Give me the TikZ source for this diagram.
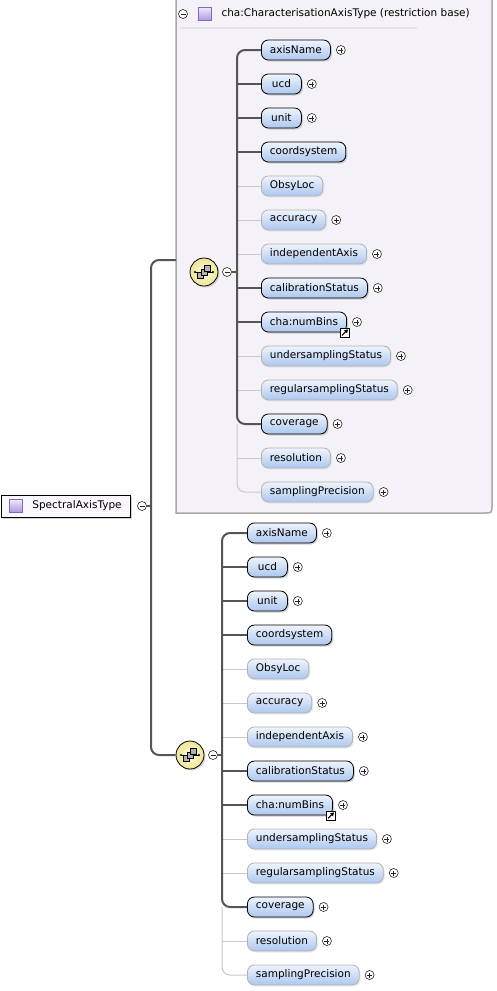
\documentclass[tikz,border=0pt]{standalone}
\usepackage{fontspec}
\setmainfont{DejaVu Sans}
\usetikzlibrary{shadows,arrows.meta}

\definecolor{elTop}{RGB}{238,244,253}
\definecolor{elBot}{RGB}{172,199,238}
\definecolor{panelbg}{RGB}{244,242,248}
\definecolor{panelrule}{RGB}{168,168,168}
\definecolor{busgray}{RGB}{85,85,85}
\definecolor{optgray}{RGB}{200,200,200}
\definecolor{optedge}{RGB}{178,178,178}
\definecolor{cplxTop}{RGB}{238,230,252}
\definecolor{cplxBot}{RGB}{172,152,222}
\definecolor{cplxEdge}{RGB}{128,108,188}
\definecolor{seqIn}{RGB}{255,252,218}
\definecolor{seqOut}{RGB}{238,228,150}
\definecolor{rootbg}{RGB}{250,248,253}

\tikzset{
  elem/.style={line width=.8pt, rounded corners=7pt, minimum height=20pt, minimum width=40pt,
    inner xsep=8.5pt, inner ysep=0pt, top color=elTop, bottom color=elBot, anchor=west,
    font=\fontsize{10.5}{12}\selectfont},
  req/.style={elem, draw=black, drop shadow={shadow xshift=1.5pt, shadow yshift=-1.5pt, fill=black!35}},
  opt/.style={elem, draw=optedge, drop shadow={shadow xshift=1.5pt, shadow yshift=-1.5pt, fill=black!15}},
  reqline/.style={draw=busgray, line width=2pt},
  optline/.style={draw=optgray, line width=1pt},
  busline/.style={draw=busgray, line width=2pt, rounded corners=8pt},
  fold/.style={circle, draw=black!85, line width=.6pt, fill=white, minimum size=9pt, inner sep=0pt,
    path picture={\draw[line width=.6pt] ([xshift=-2.5pt]path picture bounding box.center)
      -- ([xshift=2.5pt]path picture bounding box.center);}},
  unfold/.style={circle, draw=black!85, line width=.6pt, fill=white, minimum size=9pt, inner sep=0pt,
    path picture={\draw[line width=.6pt] ([xshift=-2.5pt]path picture bounding box.center)
      -- ([xshift=2.5pt]path picture bounding box.center)
      ([yshift=-2.5pt]path picture bounding box.center)
      -- ([yshift=2.5pt]path picture bounding box.center);}},
  seq/.style={circle, draw=black, line width=.8pt, minimum size=28pt, inner sep=0pt,
    inner color=seqIn, outer color=seqOut,
    drop shadow={shadow xshift=1.5pt, shadow yshift=-1.5pt, fill=black!30},
    path picture={
      \draw[line width=.7pt] ([xshift=-9pt]path picture bounding box.center)
        -- ([xshift=9pt]path picture bounding box.center);
      \fill ([xshift=-9pt]path picture bounding box.center) circle (1.2pt);
      \fill ([xshift=9pt]path picture bounding box.center) circle (1.2pt);
      \draw[fill=gray!60, line width=.5pt] ([xshift=-6.5pt,yshift=-6.5pt]path picture bounding box.center) rectangle ++(6.2pt,6.2pt);
      \draw[fill=gray!60, line width=.5pt] ([xshift=-3.1pt,yshift=-3.1pt]path picture bounding box.center) rectangle ++(6.2pt,6.2pt);
      \draw[fill=gray!60, line width=.5pt] ([xshift=0.3pt,yshift=0.3pt]path picture bounding box.center) rectangle ++(6.2pt,6.2pt);
    }},
  cplx/.style={rectangle, draw=cplxEdge, line width=.6pt, minimum size=13pt, inner sep=0pt,
    top color=cplxTop, bottom color=cplxBot},
  root/.style={rectangle, draw=black, line width=.8pt, fill=rootbg, minimum height=22pt,
    inner xsep=9pt, inner ysep=0pt, anchor=west, font=\fontsize{10.5}{12}\selectfont,
    drop shadow={shadow xshift=1.5pt, shadow yshift=-1.5pt, fill=black!35}},
  link/.style={rectangle, draw=black, line width=.6pt, fill=white, minimum size=9pt, inner sep=0pt,
    path picture={\draw[line width=1pt, -{Triangle[length=3.5pt,width=4pt]}]
      ([xshift=-3pt,yshift=-3pt]path picture bounding box.center)
      -- ([xshift=3pt,yshift=3pt]path picture bounding box.center);}}
}

\begin{document}
\begin{tikzpicture}[x=1pt,y=-1pt]
  \useasboundingbox (0,0) rectangle (496,991);

  % restriction base panel
  \fill[panelbg] (176,0) -- (176,513) -- (484,513) .. controls (492,513) .. (492,505) -- (492,0) -- cycle;
  \draw[panelrule, line width=1.5pt] (176,0) -- (176,513) -- (484,513) .. controls (492,513) .. (492,505) -- (492,0);
  \node[fold] (hm) at (183,14) {};
  \node[cplx] (hi) at (205,14) {};
  \node[anchor=west, font=\fontsize{10.5}{12}\selectfont] (ht) at (218,14) {cha:CharacterisationAxisType (restriction base)};
  \draw[draw=black!10, line width=1.5pt] (180,28) -- (417,28);

  % root type
  \node[root] (root) at (1,506) {\hspace{22pt}SpectralAxisType};
  \node[cplx] (ri) at (16,506) {};
  \node[fold] (rm) at (142,506) {};
  \coordinate (j0) at (151,506);
  \coordinate (p1) at (176,260);

  % sequences
  \node[seq] (s1) at (204,272) {};
  \node[fold] (m1) at (227,272) {};
  \coordinate (j1) at (237,272);
  \node[seq] (s2) at (190,755) {};
  \node[fold] (m2) at (213,755) {};
  \coordinate (j2) at (222,755);

  \foreach \n/\k/\l/\p [count=\i] in {axisName/req/reqline/1, ucd/req/reqline/1, unit/req/reqline/1,
      coordsystem/req/reqline/0, ObsyLoc/opt/optline/0, accuracy/opt/optline/1,
      independentAxis/opt/optline/1, calibrationStatus/req/reqline/1, cha:numBins/req/reqline/1,
      undersamplingStatus/opt/optline/1, regularsamplingStatus/opt/optline/1,
      coverage/req/reqline/1, resolution/opt/optline/1, samplingPrecision/opt/optline/1} {
    \node[\k] (t\i) at (261,16+34*\i) {\n};
    \node[\k] (b\i) at (247,499+34*\i) {\n};
    \ifnum\i=1 \else\ifnum\i=12 \else\ifnum\i=14 \else
      \draw[\l] (t\i.west -| j1) -- (t\i.west);
      \draw[\l] (b\i.west -| j2) -- (b\i.west);
    \fi\fi\fi
    \ifnum\p=1
      \node[unfold] (tp\i) at ([xshift=10pt]t\i.east) {};
      \node[unfold] (bp\i) at ([xshift=10pt]b\i.east) {};
    \fi
  }
  \node[link] (tl) at ([xshift=-2pt]t9.south east) {};
  \node[link] (bl) at ([xshift=-2pt]b9.south east) {};

  % buses
  \draw[optline, rounded corners=8pt] (t12.west -| j1) |- (t14.west);
  \draw[reqline, rounded corners=8pt] (t1.west) -| (t12.west -| j1) -- (t12.west);
  \draw[reqline] (m1.east) -- (j1);
  \draw[optline, rounded corners=8pt] (b12.west -| j2) |- (b14.west);
  \draw[reqline, rounded corners=8pt] (b1.west) -| (b12.west -| j2) -- (b12.west);
  \draw[reqline] (m2.east) -- (j2);

  \draw[busline] (p1) -| (j0 |- s2.west) -- (s2.west);
  \draw[busline] (rm.east) -- (j0);
\end{tikzpicture}
\end{document}
